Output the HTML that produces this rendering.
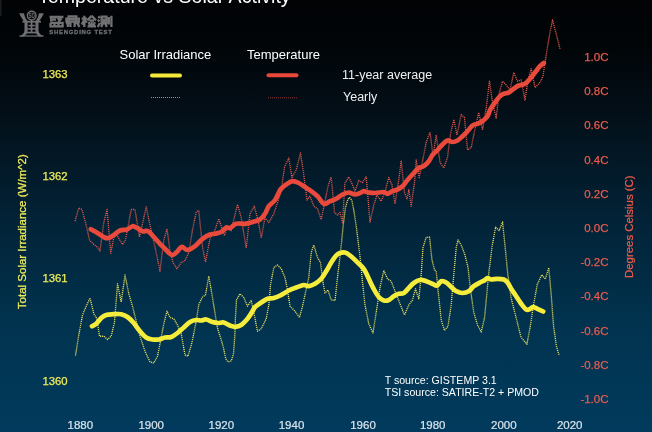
<!DOCTYPE html>
<html><head><meta charset="utf-8">
<style>
html,body{margin:0;padding:0;}
body{width:652px;height:432px;overflow:hidden;background:#04395a;font-family:"Liberation Sans",sans-serif;}
svg{display:block;}
text{font-family:"Liberation Sans",sans-serif;}
svg{will-change:transform;}
</style></head><body>
<svg width="652" height="432" viewBox="0 0 652 432">
<defs>
<linearGradient id="bg" x1="0" y1="0" x2="0" y2="432" gradientUnits="userSpaceOnUse">
<stop offset="0" stop-color="#010305"/>
<stop offset="0.106" stop-color="#010508"/>
<stop offset="0.245" stop-color="#030e16"/>
<stop offset="0.5" stop-color="#022236"/>
<stop offset="0.75" stop-color="#01334f"/>
<stop offset="0.98" stop-color="#013a5c"/>
<stop offset="1" stop-color="#013a5c"/>
</linearGradient>
<filter id="bl" x="-10%" y="-10%" width="120%" height="120%"><feGaussianBlur stdDeviation="0.3"/></filter>
</defs>
<rect width="652" height="432" fill="url(#bg)"/>
<rect x="0" y="0" width="1.5" height="16" fill="#1b1e21"/>
<!-- title -->
<text id="title" x="38" y="3.1" font-size="19.6" fill="#ffffff">Temperature vs Solar Activity</text>
<!-- logo -->
<g id="logo" fill="#6f6f71" stroke="none" filter="url(#bl)">
<path d="M19.2,13.3 H24 C24.6,16.8 26,19.5 27.9,21.5 H24 C22.2,19 20.4,16.5 19.2,13.3 Z"/>
<path d="M43.8,13.3 H39 C38.4,16.8 37,19.5 35.1,21.5 H39 C40.8,19 42.6,16.5 43.8,13.3 Z"/>
<rect x="22.4" y="20.9" width="18.6" height="1.7"/>
<path d="M24.5,22 H27.6 V31.2 C27.4,33.6 25.6,35.2 23.8,36.6 H19.4 C22.1,35 24.1,33.4 24.5,31 Z"/>
<path d="M38.5,22 H35.4 V31.2 C35.6,33.6 37.4,35.2 39.2,36.6 H43.6 C40.9,35 38.9,33.4 38.5,31 Z"/>
<rect x="30.7" y="19.5" width="1.7" height="13.2"/>
<rect x="28.5" y="24.8" width="6.4" height="1.5"/>
<rect x="27.3" y="28.2" width="8.6" height="1.5"/>
<rect x="24.2" y="31.7" width="14.8" height="1.7"/>
<rect x="19.4" y="35.4" width="24.2" height="1.2"/>
<circle cx="31.7" cy="15.6" r="4.3" fill="#04060a" stroke="#6f6f71" stroke-width="1.4"/>
<text x="28.5" y="18" font-size="6.8" font-weight="bold" fill="#6f6f71" textLength="6.4" lengthAdjust="spacingAndGlyphs">SD</text>
</g>
<g id="cjk" fill="none" stroke="#717173" stroke-width="2.3" filter="url(#bl)">
<!-- sheng -->
<path d="M49.6,17 H63.4 M51.2,17 V21.5 M51.2,19.6 H56 M57,16 L60,21.6 M61.5,18.5 L58.5,21.8 M50.5,22.8 H62.6 V26 M50.5,22.8 V26 M54.5,22.8 V26 M58.5,22.8 V26 M49.4,26.4 H63.8"/>
<!-- ding -->
<path d="M68.6,16.4 H76.4 V21.6 H68.6 Z M68.6,19 H76.4 M66.4,17.5 V22.8 M78.8,17.5 V22.8 M66,23 H70.5 M74.5,23 H79.4 M70.4,22 V27 M74.6,22 V27 M67.8,23.5 V27 M77.6,23.5 L79.4,27"/>
<!-- jian -->
<path d="M81.6,18.6 H87 M84.3,15.8 V27 M84.3,19.5 L81.8,24.5 M84.3,19.5 L86.8,22.5 M91.6,15.8 L87.4,20.4 M91.6,15.8 L96,20.4 M89.4,20.6 H94 M88.6,22.2 L89.8,25.4 M91.7,22 V25.4 M94.8,22.2 L93.6,25.4 M87.6,26.4 H96"/>
<!-- ce -->
<path d="M98.2,16.4 L99.8,18 M97.8,19.8 L99.4,21.4 M97.8,27 L99.8,23 M101.6,16.6 H106.4 V23.2 H101.6 Z M104,18.5 V22 M102.8,23.6 L101.2,27 M105.2,23.6 L106.8,27 M108.8,17 V24.5 M111.4,15.8 V27"/>
</g>
<text id="sdt" x="49.2" y="34" font-size="5.9" font-weight="bold" fill="#6f6f71" stroke="#6f6f71" stroke-width="0.3" textLength="62.6" lengthAdjust="spacing" filter="url(#bl)">SHENGDING TEST</text>
<!-- legend -->
<text id="lg1" x="119.5" y="59.2" font-size="13" fill="#ffffff">Solar Irradiance</text>
<text id="lg2" x="247" y="58.8" font-size="13" fill="#ffffff">Temperature</text>
<text id="lg3" x="342" y="79" font-size="12.5" fill="#f0f0f0">11-year average</text>
<text id="lg4" x="343" y="100.8" font-size="12.5" fill="#f0f0f0">Yearly</text>
<line x1="152" y1="75.5" x2="180" y2="75.5" stroke="#f3e93a" stroke-width="4" stroke-linecap="round"/>
<line x1="268.5" y1="75.3" x2="296.5" y2="75.3" stroke="#e8473a" stroke-width="4" stroke-linecap="round"/>
<line x1="151" y1="97.5" x2="181" y2="97.5" stroke="#d8cf45" stroke-width="1" stroke-dasharray="1 1" opacity="0.75"/>
<line x1="268" y1="97.8" x2="297" y2="97.8" stroke="#c8453a" stroke-width="1" stroke-dasharray="1 1" opacity="0.75"/>
<!-- curves -->
<path d="M75.5,355.5 L78.8,335.0 L82.5,315.0 L86.2,306.2 L90.0,298.0 L93.8,313.8 L97.0,318.8 L99.5,336.2 L103.8,336.2 L107.5,339.5 L111.2,336.2 L114.5,322.5 L117.5,283.8 L121.2,302.0 L125.0,275.0 L128.8,293.8 L132.5,306.2 L136.2,321.2 L140.0,336.2 L145.0,351.2 L150.0,362.0 L153.8,363.0 L157.5,356.2 L161.2,337.5 L163.8,323.8 L167.0,311.2 L170.0,317.5 L173.8,318.8 L177.5,325.0 L181.2,333.8 L185.0,355.0 L188.0,356.2 L192.0,342.5 L196.2,321.2 L198.8,304.5 L202.5,297.0 L205.5,295.0 L208.8,276.2 L212.5,297.5 L215.2,314.5 L217.7,329.0 L221.0,339.0 L223.3,347.0 L225.8,359.0 L228.2,362.0 L231.4,360.8 L233.5,353.5 L234.7,337.2 L235.5,316.0 L236.5,300.0 L240.0,293.8 L243.8,297.5 L247.5,306.2 L251.2,300.5 L253.8,312.5 L257.5,331.2 L261.2,328.8 L266.2,318.8 L268.8,305.0 L270.5,285.0 L273.8,267.5 L277.5,265.0 L281.2,268.8 L285.0,277.5 L287.5,290.0 L290.0,306.2 L295.0,311.2 L299.5,317.5 L302.5,306.2 L305.5,292.5 L308.8,277.5 L311.2,252.5 L313.8,245.0 L317.5,257.5 L320.5,262.5 L323.0,282.5 L325.0,293.0 L328.0,290.0 L331.2,300.0 L335.0,300.5 L337.5,277.5 L339.8,258.0 L341.7,241.0 L343.5,222.6 L345.4,207.8 L347.8,199.4 L349.6,197.6 L351.9,200.4 L354.0,211.5 L356.5,228.0 L358.3,243.0 L360.2,258.0 L362.5,282.5 L365.0,305.0 L368.8,323.8 L373.0,333.0 L376.2,312.5 L380.0,287.5 L383.8,270.5 L387.5,278.8 L391.2,281.2 L395.0,291.2 L400.0,303.8 L404.5,315.0 L408.8,305.0 L412.5,300.0 L415.5,288.8 L418.8,298.8 L421.2,275.0 L423.0,247.5 L426.2,237.5 L429.5,237.0 L432.0,260.0 L434.5,270.0 L436.2,271.2 L438.8,297.5 L441.2,320.0 L444.5,330.5 L448.0,326.2 L451.2,305.0 L453.8,275.0 L456.2,247.5 L458.0,240.0 L461.2,245.0 L465.0,255.0 L468.0,267.5 L470.5,290.0 L473.8,312.5 L477.5,325.0 L481.2,332.0 L484.5,318.0 L488.7,274.0 L492.1,246.2 L495.6,227.2 L499.1,230.6 L502.6,222.0 L505.0,246.2 L507.8,274.0 L511.2,298.3 L516.5,319.2 L521.0,337.2 L526.9,344.2 L530.3,326.1 L533.8,303.5 L537.3,284.4 L541.8,274.7 L545.3,279.2 L548.8,267.8 L551.2,294.9 L553.6,326.1 L556.4,346.2 L559.2,355.6" fill="none" stroke="#e8de60" stroke-width="1.35" stroke-dasharray="1.1 0.9" stroke-linejoin="round"/>
<path d="M75.0,221.2 L78.8,208.0 L82.0,209.5 L86.2,225.0 L89.5,240.0 L93.8,244.5 L97.5,247.0 L100.0,251.2 L103.8,222.5 L107.0,209.5 L110.8,253.2 L114.5,233.8 L118.0,237.0 L122.5,244.5 L125.5,240.0 L131.2,209.5 L135.0,209.5 L139.5,237.0 L146.2,207.0 L150.0,225.0 L156.2,252.5 L160.0,271.2 L163.8,240.0 L167.0,228.8 L170.0,251.2 L173.0,262.5 L177.0,268.8 L181.2,262.5 L185.0,260.5 L188.8,252.5 L192.5,230.0 L196.2,212.0 L198.8,210.5 L202.5,247.5 L205.5,262.0 L210.0,238.8 L215.0,230.0 L218.8,218.8 L222.0,228.8 L224.5,235.5 L227.5,226.2 L231.2,230.5 L237.5,204.5 L241.2,217.5 L246.2,248.0 L250.0,213.8 L254.2,206.2 L258.0,220.0 L261.2,238.0 L265.0,217.5 L268.8,222.5 L273.8,213.8 L277.5,202.5 L281.2,191.2 L284.5,167.0 L288.8,158.0 L292.0,177.5 L296.2,170.0 L300.5,153.0 L303.8,175.0 L307.0,200.0 L310.0,196.2 L313.8,206.2 L317.5,208.8 L321.2,219.5 L325.0,201.2 L328.0,186.2 L331.2,177.0 L334.5,212.5 L337.5,215.0 L340.0,212.5 L342.5,222.5 L345.0,183.0 L348.8,177.0 L352.0,183.8 L355.0,191.2 L358.8,180.5 L362.5,182.5 L366.2,177.0 L370.0,222.0 L373.8,205.0 L377.0,195.0 L381.2,201.2 L385.0,192.0 L388.8,177.5 L392.0,185.0 L395.0,203.8 L398.0,185.0 L401.2,161.2 L404.5,192.5 L407.0,198.8 L408.8,190.0 L411.2,206.2 L414.5,182.5 L416.2,160.0 L419.2,177.5 L422.0,163.8 L426.2,142.5 L430.0,132.0 L433.0,156.2 L436.2,135.0 L440.0,162.5 L443.8,168.0 L447.5,157.5 L450.5,133.8 L453.8,119.5 L457.0,135.0 L461.2,114.5 L464.5,117.5 L467.5,150.0 L471.2,147.5 L475.0,128.8 L478.8,112.5 L482.5,130.0 L486.2,108.0 L489.5,81.2 L492.5,102.5 L496.2,118.0 L498.8,95.0 L502.5,81.2 L506.2,85.0 L510.0,90.0 L513.8,72.5 L517.5,81.2 L521.2,80.0 L525.0,100.0 L528.0,80.0 L531.2,68.8 L535.0,87.5 L540.0,82.5 L543.0,76.2 L546.2,55.0 L549.5,35.0 L552.5,20.0 L556.2,33.8 L560.0,48.8" fill="none" stroke="#e2574c" stroke-width="1.35" stroke-dasharray="1.1 0.9" stroke-linejoin="round"/>
<path d="M92.0,326.2 C92.7,325.8 94.7,325.1 96.2,323.8 C97.8,322.4 99.6,319.5 101.2,318.0 C102.9,316.5 104.2,315.6 106.2,315.0 C108.3,314.4 111.2,314.4 113.8,314.2 C116.2,314.1 119.0,313.8 121.2,314.2 C123.5,314.7 125.4,315.5 127.5,317.0 C129.6,318.5 131.7,320.6 133.8,323.0 C135.8,325.4 137.9,328.8 140.0,331.2 C142.1,333.7 144.2,336.1 146.2,337.5 C148.3,338.9 150.4,339.2 152.5,339.5 C154.6,339.8 156.7,339.8 158.8,339.5 C160.8,339.2 162.9,337.9 165.0,337.5 C167.1,337.1 169.2,337.8 171.2,337.0 C173.3,336.2 175.4,334.6 177.5,333.0 C179.6,331.4 181.7,329.3 183.8,327.5 C185.8,325.7 187.9,323.2 190.0,322.0 C192.1,320.8 194.4,320.2 196.2,320.0 C198.1,319.8 199.6,320.6 201.2,320.5 C202.9,320.4 204.4,319.2 206.2,319.5 C208.1,319.8 210.5,321.4 212.5,322.0 C214.5,322.6 216.1,322.9 218.0,323.0 C219.9,323.1 221.8,322.1 223.8,322.5 C225.8,322.9 228.1,324.8 230.0,325.5 C231.9,326.2 233.1,326.8 235.0,326.8 C236.9,326.7 239.2,326.3 241.2,325.0 C243.3,323.7 245.6,321.0 247.5,318.8 C249.4,316.5 251.2,313.2 252.5,311.2 C253.8,309.3 253.5,308.5 255.0,307.0 C256.5,305.5 259.2,303.9 261.2,302.5 C263.3,301.1 265.4,299.5 267.5,298.8 C269.6,298.0 271.5,298.6 273.8,298.0 C276.0,297.4 278.8,296.2 281.2,295.0 C283.8,293.8 286.2,291.8 288.8,290.5 C291.2,289.2 293.8,288.4 296.2,287.5 C298.8,286.6 301.7,285.2 303.8,285.0 C305.8,284.8 306.9,286.5 308.8,286.2 C310.6,286.0 312.9,285.0 315.0,283.8 C317.1,282.5 319.4,280.8 321.2,278.8 C323.1,276.7 324.6,274.0 326.2,271.2 C327.9,268.5 329.6,265.1 331.2,262.5 C332.9,259.9 334.8,257.1 336.2,255.5 C337.7,253.9 338.5,253.5 340.0,253.0 C341.5,252.5 343.3,252.1 345.0,252.5 C346.7,252.9 348.1,254.0 350.0,255.5 C351.9,257.0 354.0,259.0 356.2,261.2 C358.5,263.5 361.7,265.8 363.8,268.8 C365.8,271.7 367.1,275.4 368.8,278.8 C370.4,282.1 372.1,286.0 373.8,289.0 C375.4,292.0 377.1,295.1 378.8,297.0 C380.4,298.9 382.1,300.0 383.8,300.5 C385.4,301.0 387.1,300.7 388.8,300.0 C390.4,299.3 392.1,297.3 393.8,296.2 C395.4,295.2 397.1,294.3 398.8,293.8 C400.4,293.2 402.1,294.0 403.8,293.0 C405.4,292.0 407.1,289.7 408.8,288.0 C410.4,286.3 411.9,284.3 413.8,283.0 C415.6,281.7 417.9,280.3 420.0,280.0 C422.1,279.7 424.2,280.6 426.2,281.2 C428.3,281.9 430.7,283.0 432.5,283.8 C434.3,284.5 435.5,285.9 437.0,285.5 C438.5,285.1 439.7,281.8 441.2,281.2 C442.8,280.8 444.6,281.5 446.2,282.5 C447.9,283.5 449.6,285.5 451.2,287.0 C452.9,288.5 454.4,290.2 456.2,291.2 C458.1,292.2 460.4,293.0 462.5,293.0 C464.6,293.0 466.9,292.4 468.8,291.2 C470.6,290.1 471.9,287.7 473.8,286.2 C475.6,284.8 478.1,283.5 480.0,282.5 C481.9,281.5 483.8,280.8 485.0,280.0 C486.2,279.2 486.5,278.1 487.5,278.0 C488.5,277.9 489.6,279.4 491.2,279.5 C492.9,279.6 495.4,278.8 497.5,278.8 C499.6,278.8 502.1,278.9 503.8,279.5 C505.4,280.1 506.2,281.0 507.5,282.5 C508.8,284.0 509.8,286.5 511.2,288.8 C512.7,291.0 514.6,293.8 516.2,296.2 C517.9,298.8 519.6,301.5 521.2,303.8 C522.9,306.0 524.8,308.6 526.2,309.5 C527.7,310.4 528.9,309.4 530.0,309.0 C531.1,308.6 531.6,307.0 532.8,307.0 C534.0,307.0 535.6,308.0 537.3,308.8 C539.0,309.5 542.2,311.0 543.2,311.5" fill="none" stroke="#f5ec3c" stroke-width="4.7" stroke-linecap="round" stroke-linejoin="round"/>
<path d="M90.8,229.2 C91.9,229.9 95.2,231.6 97.5,233.0 C99.8,234.4 102.6,236.7 104.5,237.5 C106.4,238.3 107.2,238.4 108.8,238.0 C110.3,237.6 111.9,236.2 113.8,235.0 C115.6,233.8 117.8,231.4 120.0,230.5 C122.2,229.6 124.9,230.2 127.0,229.5 C129.1,228.8 130.8,226.5 132.5,226.2 C134.2,226.0 135.8,227.4 137.5,228.2 C139.2,229.1 140.8,230.8 142.5,231.2 C144.2,231.8 146.1,230.3 148.0,231.2 C149.9,232.2 151.8,234.9 153.8,237.0 C155.8,239.1 157.9,241.6 160.0,243.8 C162.1,245.9 164.2,248.1 166.2,250.0 C168.2,251.9 170.1,254.8 172.0,255.0 C173.9,255.2 175.9,252.6 177.5,251.2 C179.1,249.9 180.1,247.0 181.8,246.8 C183.4,246.5 185.3,250.1 187.5,250.0 C189.7,249.9 192.5,248.1 195.0,246.2 C197.5,244.4 200.0,240.7 202.5,238.8 C205.0,236.8 207.9,235.3 210.0,234.5 C212.1,233.7 213.1,234.2 215.0,233.8 C216.9,233.3 219.4,233.0 221.2,232.0 C223.1,231.0 224.8,228.2 226.2,227.5 C227.7,226.8 228.3,228.6 230.0,228.0 C231.7,227.4 233.8,224.5 236.2,223.8 C238.8,223.0 242.3,224.0 245.0,223.8 C247.7,223.5 250.0,222.7 252.5,222.0 C255.0,221.3 257.9,220.9 260.0,219.5 C262.1,218.1 263.5,216.0 265.0,213.8 C266.5,211.5 267.1,208.5 268.8,206.2 C270.4,204.0 273.0,202.8 275.0,200.0 C277.0,197.2 278.6,192.1 280.5,189.5 C282.4,186.9 284.2,185.9 286.2,184.5 C288.2,183.1 290.4,181.5 292.5,181.2 C294.6,181.0 296.7,182.0 298.8,183.0 C300.8,184.0 302.9,185.6 305.0,187.0 C307.1,188.4 309.2,189.7 311.2,191.2 C313.3,192.8 315.4,194.2 317.5,196.2 C319.6,198.3 321.7,202.9 323.8,203.8 C325.8,204.6 327.9,202.1 330.0,201.2 C332.1,200.4 334.2,199.9 336.2,198.8 C338.3,197.6 340.4,195.5 342.5,194.5 C344.6,193.5 346.7,192.5 348.8,192.5 C350.8,192.5 353.1,194.4 355.0,194.5 C356.9,194.6 358.5,193.5 360.0,193.0 C361.5,192.5 362.3,191.3 363.8,191.2 C365.2,191.2 366.9,192.2 368.8,192.5 C370.6,192.8 372.5,193.1 375.0,193.0 C377.5,192.9 381.7,191.9 383.8,192.0 C385.8,192.1 386.0,193.9 387.5,193.8 C389.0,193.6 390.8,192.0 392.5,191.2 C394.2,190.5 395.8,190.3 397.5,189.5 C399.2,188.7 400.8,187.8 402.5,186.2 C404.2,184.7 405.6,182.2 407.5,180.0 C409.4,177.8 411.9,175.0 413.8,173.0 C415.6,171.0 417.1,169.1 418.8,168.0 C420.4,166.9 422.1,167.4 423.8,166.2 C425.4,165.1 427.3,163.1 428.8,161.2 C430.2,159.4 431.0,156.9 432.5,155.0 C434.0,153.1 435.8,151.8 437.5,150.0 C439.2,148.2 440.8,146.1 442.5,144.5 C444.2,142.9 445.8,140.9 447.5,140.5 C449.2,140.1 450.8,142.0 452.5,142.0 C454.2,142.0 455.8,141.5 457.5,140.5 C459.2,139.5 460.8,137.8 462.5,136.2 C464.2,134.7 465.8,133.0 467.5,131.2 C469.2,129.5 470.8,126.8 472.5,125.5 C474.2,124.2 475.8,124.5 477.5,123.8 C479.2,123.0 480.8,122.5 482.5,121.2 C484.2,120.0 486.2,118.1 487.5,116.2 C488.8,114.4 488.8,112.3 490.0,110.0 C491.2,107.7 493.3,104.8 495.0,102.5 C496.7,100.2 498.5,97.7 500.0,96.2 C501.5,94.8 502.3,94.4 503.8,93.8 C505.2,93.1 507.1,93.3 508.8,92.5 C510.4,91.7 512.1,89.9 513.8,88.8 C515.4,87.6 516.9,86.3 518.8,85.5 C520.6,84.7 523.1,84.9 525.0,83.8 C526.9,82.6 528.3,80.6 530.0,78.8 C531.7,76.9 533.3,74.6 535.0,72.5 C536.7,70.4 538.5,67.8 540.0,66.2 C541.5,64.7 543.1,63.5 543.8,63.0" fill="none" stroke="#ea4a3c" stroke-width="4.7" stroke-linecap="round" stroke-linejoin="round"/>

<!-- left axis -->
<g font-size="11.3" fill="#efeb58" stroke="#efeb58" stroke-width="0.25" text-anchor="end">
<text id="l1" x="67.6" y="77.7">1363</text>
<text x="67.6" y="180.3">1362</text>
<text x="67.6" y="281.6">1361</text>
<text x="67.6" y="385.2">1360</text>
</g>
<text id="lrot" transform="translate(26.2,231.7) rotate(-90)" text-anchor="middle" font-size="11.5" fill="#efeb58" stroke="#efeb58" stroke-width="0.25">Total Solar Irradiance (W/m^2)</text>
<!-- right axis -->
<g font-size="11.5" fill="#ea5a4c" stroke="#ea5a4c" stroke-width="0.25" text-anchor="end">
<text id="r1" x="608.5" y="61">1.0C</text>
<text x="608.5" y="95.2">0.8C</text>
<text x="608.5" y="129.4">0.6C</text>
<text x="608.5" y="163.6">0.4C</text>
<text x="608.5" y="197.8">0.2C</text>
<text x="608.5" y="232">0.0C</text>
<text x="608.5" y="266.2">-0.2C</text>
<text x="608.5" y="300.4">-0.4C</text>
<text x="608.5" y="334.6">-0.6C</text>
<text x="608.5" y="368.8">-0.8C</text>
<text x="608.5" y="403">-1.0C</text>
</g>
<text id="rrot" transform="translate(633,226.7) rotate(-90)" text-anchor="middle" font-size="11.4" fill="#ea5a4c" stroke="#ea5a4c" stroke-width="0.25">Degrees Celsius (C)</text>
<!-- x axis -->
<g font-size="11.5" fill="#dbe4ec" stroke="#dbe4ec" stroke-width="0.2" text-anchor="middle">
<text id="x1" x="80.3" y="428.8">1880</text>
<text x="151.2" y="428.8">1900</text>
<text x="221.3" y="428.8">1920</text>
<text x="291.5" y="428.8">1940</text>
<text x="363" y="428.8">1960</text>
<text x="432.7" y="428.8">1980</text>
<text x="503.8" y="428.8">2000</text>
<text x="569.7" y="428.8">2020</text>
</g>
<!-- source -->
<text id="s1" x="384.7" y="383.5" font-size="10.6" fill="#ffffff">T source: GISTEMP 3.1</text>
<text id="s2" x="384.7" y="396.2" font-size="10.6" fill="#ffffff">TSI source: SATIRE-T2 + PMOD</text>
</svg>
</body></html>
